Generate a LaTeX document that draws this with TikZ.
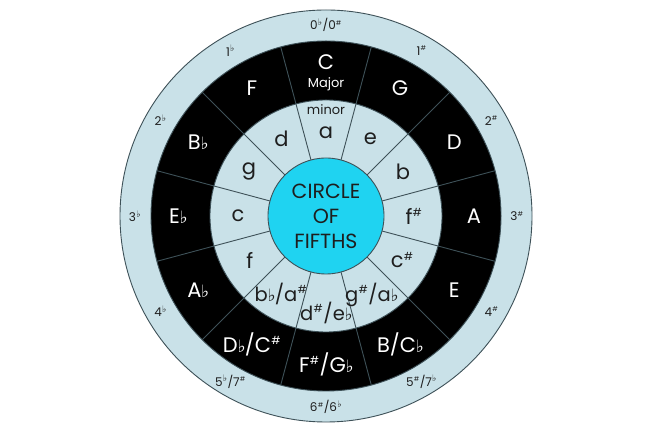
\documentclass[tikz,border=0pt]{standalone}
\usepackage{fontspec}
\setmainfont{Poppins}
\newfontfamily\symf{DejaVu Sans}
\definecolor{ringblue}{HTML}{C9E1E8}
\definecolor{centercyan}{HTML}{1FD3F1}
\definecolor{ringedge}{HTML}{3E5158}
\definecolor{txtdark}{HTML}{1E1E1E}
% sharp / flat for the large labels
\newcommand{\shp}{\kern0.3pt\textsuperscript{\fontsize{11}{11}\selectfont\#}}
\newcommand{\flt}{\kern-0.3pt{\symf\fontsize{17}{17}\selectfont ♭}\kern-0.8pt}
% sharp / flat for the outer ring
\newcommand{\oshp}{\kern0.2pt\textsuperscript{\fontsize{6.5}{7}\selectfont\#}}
\newcommand{\oflt}{\kern0.2pt\textsuperscript{\symf\fontsize{9}{9}\selectfont ♭}}
\begin{document}
\begin{tikzpicture}[x=1pt,y=1pt,
  edge/.style={draw=ringedge, line width=0.9pt},
  divider/.style={draw=ringedge, line width=0.9pt},
  majlab/.style={text=white, font=\fontsize{21}{25}\selectfont, inner sep=0pt},
  minlab/.style={text=txtdark, font=\fontsize{21}{25}\selectfont, inner sep=0pt},
  mincomp/.style={minlab, font=\fontsize{19.5}{23}\selectfont},
  sublab/.style={inner sep=0pt, font=\fontsize{13}{15}\selectfont},
  outlab/.style={text=txtdark, font=\fontsize{12}{14}\selectfont, inner sep=0pt},
  centerlab/.style={circle, draw=ringedge, line width=0.9pt, fill=centercyan, minimum size=116pt, inner sep=0pt, align=center, text=txtdark, font=\fontsize{20.5}{25}\selectfont}]
\useasboundingbox (0,0) rectangle (652,435);
\fill[white] (0,0) rectangle (652,435);
\coordinate (O) at (326,219);
% rings
\draw[edge, fill=ringblue] (O) circle (206);
\draw[edge, fill=black] (O) circle (175);
\draw[edge, fill=ringblue] (O) circle (116);
% dividers
\foreach \a in {15,45,...,345}
  \draw[divider] ([shift={(\a:57)}]O) -- ([shift={(\a:175)}]O);
% centre
\node[centerlab] (centre) at (O) {CIRCLE\\OF\\FIFTHS};
% major keys
\node[majlab] (majC) at ([shift={(90:154)}]O) {C};
\node[sublab, text=white] (majorword) at ([shift={(90:132)}]O) {Major};
\foreach \t [count=\k from 1] in {G,D,A,E,{B/C\flt},{F\shp/G\flt},{D\flt/C\shp},A\flt,E\flt,B\flt,F}
  \node[majlab] (maj\k) at ([shift={(90-30*\k:148)}]O) {\t};
% minor keys
\node[sublab, text=txtdark] (minorword) at ([shift={(90:106)}]O) {minor};
\node[minlab] (mina) at ([shift={(90:83)}]O) {a};
\foreach \t/\r [count=\k from 1] in {e/89,b/89,{f\shp}/88,{c\shp}/88}
  \node[minlab] (min\k) at ([shift={(90-30*\k:\r)}]O) {\t};
\node[mincomp] (min5) at ([shift={(-60:91)}]O) {g\shp/a\flt};
\node[mincomp] (min6) at ([shift={(-90:97)}]O) {d\shp/e\flt};
\node[mincomp] (min7) at ([shift={(-120:90)}]O) {b\flt/a\shp};
\foreach \t/\r [count=\k from 8] in {f/88,c/88,g/89,d/89}
  \node[minlab] (min\k) at ([shift={(90-30*\k:\r)}]O) {\t};
% outer ring
\foreach \t [count=\k from 0] in {{0\oflt/0\oshp},1\oshp,2\oshp,3\oshp,4\oshp,{5\oshp/7\oflt},{6\oshp/6\oflt},{5\oflt/7\oshp},4\oflt,3\oflt,2\oflt,1\oflt}
  \node[outlab] (out\k) at ([shift={(90-30*\k:191)}]O) {\t};
\end{tikzpicture}
\end{document}
